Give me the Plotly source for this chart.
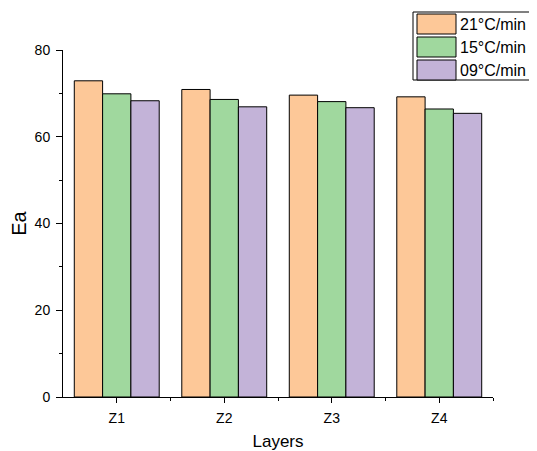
import plotly.graph_objects as go

categories = ["Z1", "Z2", "Z3", "Z4"]
series_names = ["21°C/min", "15°C/min", "09°C/min"]
ea_21 = [72.9, 70.9, 69.6, 69.2]
ea_15 = [69.9, 68.6, 68.1, 66.4]
ea_09 = [68.3, 66.9, 66.7, 65.4]
colors = ["#FDC898", "#A0D89E", "#C3B3D8"]

series_values = [ea_21, ea_15, ea_09]
xpos = list(range(len(categories)))

FONT = "Arial, Liberation Sans, sans-serif"

fig = go.Figure()
for name, vals, col in zip(series_names, series_values, colors):
    fig.add_trace(go.Bar(
        x=xpos, y=vals, name=name,
        marker=dict(color=col, line=dict(color="#000000", width=1)),
        showlegend=False,
    ))

# page body has an 8px margin; work in screen pixels and offset
OFF = 8
W, H = 537 - OFF, 451 - OFF
L, T = 63 - OFF, 50 - OFF
R = W - (493 - OFF)
B = H - (397 - OFF)
pw, ph = W - L - R, H - T - B

def px_x(p):
    return (p - OFF - L) / pw

def px_y(p):
    return (H - B - (p - OFF)) / ph

# legend box (manual, mimicking large swatches)
shapes = [dict(type="rect", xref="paper", yref="paper",
               x0=px_x(413), x1=px_x(570), y0=px_y(80), y1=px_y(12),
               line=dict(color="#000000", width=1), fillcolor="white")]
annotations = []
for i, (name, col) in enumerate(zip(series_names, colors)):
    top = 14 + i * 23
    shapes.append(dict(type="rect", xref="paper", yref="paper",
                       x0=px_x(417), x1=px_x(456), y0=px_y(top + 20), y1=px_y(top),
                       line=dict(color="#000000", width=1), fillcolor=col))
    annotations.append(dict(xref="paper", yref="paper", x=px_x(458), y=px_y(top + 10),
                            text=name, showarrow=False, xanchor="left", yanchor="middle",
                            font=dict(family=FONT, size=16, color="#000000")))

fig.update_layout(
    width=W, height=H,
    margin=dict(l=L, r=R, t=T, b=B),
    paper_bgcolor="white", plot_bgcolor="white",
    barmode="group", bargap=0.21, bargroupgap=0,
    font=dict(family=FONT, color="#000000"),
    shapes=shapes, annotations=annotations,
    showlegend=False,
)
fig.update_xaxes(
    range=[-0.5, 3.5], tickvals=xpos, ticktext=categories,
    showline=True, linecolor="#000000", linewidth=1,
    ticks="outside", ticklen=5, tickcolor="#000000",
    minor=dict(tickvals=[0.5, 1.5, 2.5, 3.5], ticks="outside", ticklen=3, tickcolor="#000000"),
    showgrid=False, zeroline=False, automargin=False,
    tickfont=dict(family=FONT, size=14), ticklabelstandoff=3,
    title=dict(text="Layers", font=dict(family=FONT, size=17), standoff=10),
)
fig.update_yaxes(
    range=[0, 80], tickvals=[0, 20, 40, 60, 80],
    showline=True, linecolor="#000000", linewidth=1,
    ticks="outside", ticklen=6, tickcolor="#000000",
    minor=dict(tickvals=[10, 30, 50, 70], ticks="outside", ticklen=3, tickcolor="#000000"),
    showgrid=False, zeroline=False, automargin=False,
    tickfont=dict(family=FONT, size=14), ticklabelstandoff=3,
    title=dict(text="Ea", font=dict(family=FONT, size=20), standoff=8),
)

fig.write_html("out.html")
